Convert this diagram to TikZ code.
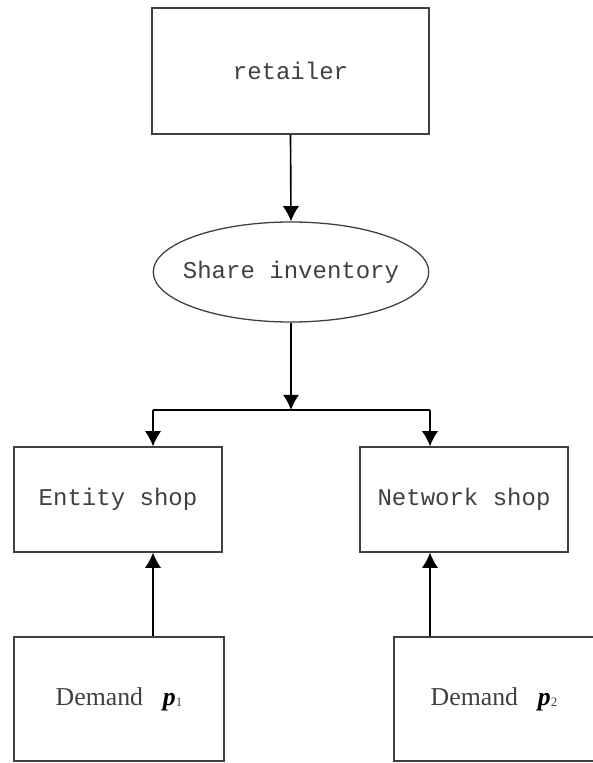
\documentclass[tikz,border=0pt]{standalone}
\usepackage{fontspec}
\setmainfont{Liberation Serif}
\setmonofont{Liberation Mono}
\usetikzlibrary{arrows.meta,shapes.geometric}

\begin{document}
\begin{tikzpicture}[x=0.03cm,y=-0.03cm,>={Latex[length=13pt,width=14pt]},
	box/.style={draw=black!75,line width=1.1pt,rectangle,text=black!75,font=\ttfamily\fontsize{20.5}{24}\selectfont},
	demandbox/.style={box,minimum height=3.72cm,font=\rmfamily\fontsize{22}{24}\selectfont},
	link/.style={->,line width=1.4pt}]

\useasboundingbox (0,0) rectangle (592,763);

\node[box,minimum width=8.31cm,minimum height=3.78cm] (retailer) at (290.5,71) {retailer};

\node[box,ellipse,minimum height=3cm,inner xsep=-0.32cm,inner ysep=0pt] (share) at (291,272) {Share inventory};
\draw [link] (retailer.south) -- (share.north);

\coordinate (J_mid) at (291,410);
\coordinate (J_left) at (153,410);
\coordinate (J_right) at (430,410);
\draw [link] (share.south) -- (J_mid);
\draw [line width=1.4pt] (J_left) -- (J_right);

\node[box,minimum width=6.24cm,minimum height=3.15cm] (entity) at (118,499.5) {Entity shop};
\draw [link] (J_left) -- (entity.north -| J_left);

\node[box,minimum width=6.24cm,minimum height=3.15cm] (network) at (464,499.5) {Network shop};
\draw [link] (J_right) -- (network.north -| J_right);

\node[demandbox,minimum width=6.3cm] (demand_left) at (119,699) {Demand\hspace{17pt}\textcolor{black}{\textbf{\textit{p}}}\raisebox{-1pt}{\fontsize{11}{12}\selectfont 1}};
\draw [link] (demand_left.north -| J_left) -- (entity.south -| J_left);

\node[demandbox,minimum width=6cm] (demand_right) at (494,699) {Demand\hspace{17pt}\textcolor{black}{\textbf{\textit{p}}}\raisebox{-1pt}{\fontsize{11}{12}\selectfont 2}};
\draw [link] (demand_right.north -| J_right) -- (network.south -| J_right);

\end{tikzpicture}
\end{document}
